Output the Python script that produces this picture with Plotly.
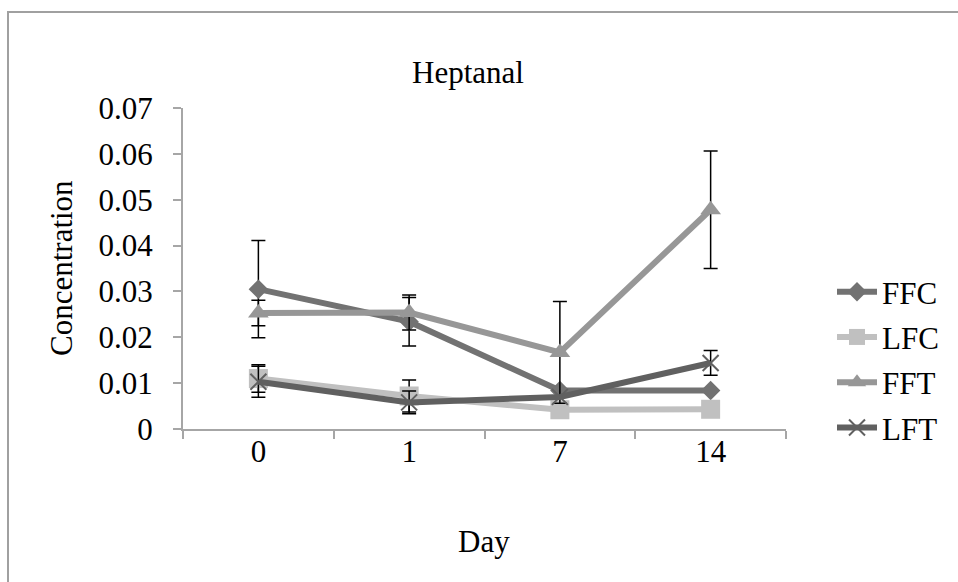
import plotly.graph_objects as go

days = ["0", "1", "7", "14"]
ffc = [0.0305, 0.0234, 0.0084, 0.0084]
ffc_err = [0.0106, 0.0053, 0.0, 0.0]
lfc = [0.0110, 0.0072, 0.0042, 0.0043]
lfc_err = [0.0030, 0.0035, 0.0, 0.0]
fft = [0.0253, 0.0254, 0.0167, 0.0478]
fft_err = [0.0028, 0.0038, 0.0111, 0.0128]
lft = [0.0103, 0.0058, 0.0070, 0.0144]
lft_err = [0.0034, 0.0025, 0.0, 0.0027]

series = [
    ("FFC", ffc, ffc_err, "#727272", "diamond", 15),
    ("LFC", lfc, lfc_err, "#c0c0c0", "square", 19),
    ("FFT", fft, fft_err, "#979797", "triangle-up", 18),
    ("LFT", lft, lft_err, "#606060", "x-thin-open", 16),
]

W, H = 958, 582
ml, mr, mt, mb = 183, 172, 108, 153
pw, ph = W - ml - mr, H - mt - mb

def px(x):
    return (x - ml) / pw

def py(y):
    return (H - mb - y) / ph

fig = go.Figure()
for name, vals, errs, col, sym, sz in series:
    marker = dict(symbol=sym, size=sz, color=col)
    if sym.startswith("x"):
        marker["line"] = dict(color=col, width=2)
    fig.add_trace(go.Scatter(
        x=days, y=vals, name=name, mode="lines+markers",
        line=dict(color=col, width=6),
        marker=marker,
        legendgroup=name,
        error_y=dict(type="data", array=errs, visible=True,
                     color="black", thickness=1.5, width=7),
    ))

font = "Liberation Serif"
fig.update_layout(
    width=W, height=H,
    margin=dict(l=ml, r=mr, t=mt, b=mb, autoexpand=False),
    paper_bgcolor="white", plot_bgcolor="white",
    font=dict(family=font, size=31, color="black"),
    showlegend=True,
    legend=dict(x=px(832), y=py(265), xanchor="left", yanchor="top",
                font=dict(size=31, family=font), tracegroupgap=2,
                bgcolor="rgba(0,0,0,0)", itemwidth=40),
    xaxis=dict(type="category", tickson="boundaries", showline=True,
               linecolor="#a6a6a6", linewidth=2, ticks="outside",
               ticklen=8, tickcolor="#a6a6a6", tickwidth=2,
               showgrid=False, zeroline=False, ticklabelstandoff=-6,
               tickfont=dict(size=31, family=font), range=[-0.5, 3.5]),
    yaxis=dict(range=[0, 0.07], dtick=0.01, tickformat="~g",
               showline=True, linecolor="#a6a6a6", linewidth=2,
               ticks="outside", ticklen=8, tickcolor="#a6a6a6", tickwidth=2,
               showgrid=False, zeroline=False, ticklabelstandoff=14,
               tickfont=dict(size=31, family=font)),
    annotations=[
        dict(text="Heptanal", x=px(468), y=py(72), xref="paper", yref="paper",
             xanchor="center", yanchor="middle",
             showarrow=False, font=dict(size=31, family=font)),
        dict(text="Day", x=px(484), y=py(541), xref="paper", yref="paper",
             xanchor="center", yanchor="middle",
             showarrow=False, font=dict(size=31, family=font)),
        dict(text="Concentration", x=px(61), y=py(268), xref="paper", yref="paper",
             xanchor="center", yanchor="middle",
             showarrow=False, textangle=-90, font=dict(size=31, family=font)),
    ],
    shapes=[
        dict(type="rect", xref="paper", yref="paper",
             x0=px(8), x1=px(1000), y0=py(12), y1=py(700),
             line=dict(color="#a0a0a0", width=2), layer="below"),
    ],
)

fig.write_html("out.html")
